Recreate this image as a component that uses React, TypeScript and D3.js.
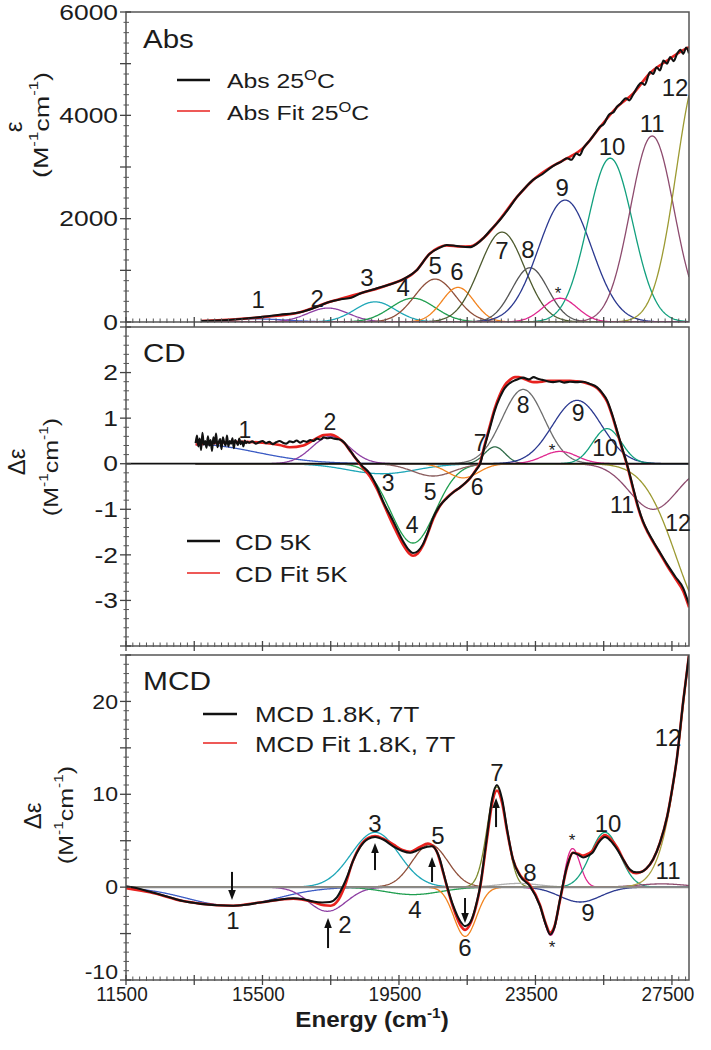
import React from "react";
import * as d3 from "d3";

const FONT = "'Liberation Sans', Arial, Helvetica, sans-serif";
const INK = "#1c1c1c";

// ---------- axes / ticks ----------
const energyDomain: [number, number] = [11500, 28000];
const xMajorTicks = [11500, 13500, 15500, 17500, 19500, 21500, 23500, 25500, 27500];
const xTickLabels = [11500, 15500, 19500, 23500, 27500];

const absMajorTicks = [0, 1000, 2000, 3000, 4000, 5000, 6000];
const absTickLabels = [0, 2000, 4000, 6000];
const cdMajorTicks = [-4, -3, -2, -1, 0, 1, 2, 3];
const cdTickLabels = [-3, -2, -1, 0, 1, 2];
const mcdMajorTicks = [-10, -5, 0, 5, 10, 15, 20, 25];
const mcdTickLabels = [-10, 0, 10, 20];

// ---------- experimental spectra [energy cm-1, value] ----------
const absExp: [number, number][] = [
  [13700, 20], [14500, 40], [15500, 100], [16000, 140], [16600, 190], [17000, 270], [17480, 390],
  [17800, 440], [18100, 470], [18400, 560], [18800, 640], [19200, 720], [19600, 820], [20000, 990],
  [20400, 1320], [20700, 1440], [20900, 1490], [21100, 1480], [21300, 1460], [21600, 1450], [21800, 1520],
  [22000, 1640], [22200, 1790], [22400, 1930], [22700, 2180], [22960, 2420], [23200, 2600], [23430, 2750],
  [23700, 2860], [23930, 2980], [24100, 3050], [24250, 3100], [24430, 3170], [24550, 3140], [24700, 3260],
  [24800, 3230], [24900, 3360], [25100, 3520], [25300, 3700], [25390, 3780], [25500, 3830], [25650, 4010],
  [25800, 4070], [25890, 4170], [26000, 4230], [26150, 4330], [26250, 4290], [26360, 4400], [26500, 4560],
  [26600, 4630], [26700, 4590], [26860, 4840], [26950, 4800], [27050, 4930], [27150, 4870], [27250, 5060],
  [27360, 5000], [27450, 5130], [27550, 5050], [27650, 5190], [27750, 5270], [27830, 5190], [27920, 5310],
  [28000, 5200],
];
const absFit: [number, number][] = [
  [13700, 20], [15500, 95], [16600, 190], [17480, 390], [18400, 560], [19200, 720], [20000, 990],
  [20400, 1320], [20900, 1480], [21300, 1460], [21600, 1465], [22000, 1640], [22400, 1940], [22960, 2420],
  [23430, 2750], [23930, 2990], [24430, 3170], [24900, 3370], [25390, 3770], [25890, 4160], [26360, 4420],
  [26860, 4820], [27360, 5060], [27830, 5260], [28000, 5320],
];

const cdExp: [number, number][] = [
  [13540, 0.45], [13580, 0.62], [13620, 0.38], [13660, 0.55], [13700, 0.3], [13740, 0.68], [13780, 0.42],
  [13820, 0.5], [13860, 0.35], [13900, 0.6], [13940, 0.4], [13980, 0.52], [14020, 0.28], [14060, 0.58],
  [14100, 0.44], [14140, 0.66], [14180, 0.36], [14220, 0.48], [14260, 0.54], [14300, 0.32], [14340, 0.58],
  [14380, 0.46], [14420, 0.4], [14460, 0.62], [14500, 0.38], [14540, 0.5], [14580, 0.44], [14620, 0.56],
  [14660, 0.34], [14700, 0.52], [14740, 0.47], [14780, 0.41], [14820, 0.55], [14860, 0.43], [14900, 0.49],
  [14940, 0.38], [14980, 0.51], [15020, 0.45], [15060, 0.48], [15100, 0.46], [15200, 0.49], [15300, 0.44],
  [15400, 0.47], [15500, 0.5], [15600, 0.45], [15700, 0.48], [15800, 0.43], [15900, 0.47], [16000, 0.5],
  [16100, 0.46], [16200, 0.44], [16300, 0.49], [16400, 0.47], [16500, 0.51], [16600, 0.46], [16700, 0.5],
  [16800, 0.48], [16900, 0.52], [17000, 0.5], [17100, 0.55], [17200, 0.53], [17300, 0.58], [17400, 0.56],
  [17500, 0.57], [17600, 0.55], [17700, 0.54], [17800, 0.52], [17900, 0.46], [18000, 0.36], [18100, 0.26],
  [18200, 0.15], [18300, 0.06], [18400, -0.03], [18650, -0.22], [18850, -0.5], [19030, -0.82], [19330, -1.26],
  [19620, -1.7], [19800, -1.9], [19910, -1.96], [20050, -1.92], [20200, -1.77], [20350, -1.5], [20500, -1.19],
  [20700, -0.92], [20910, -0.75], [21100, -0.62], [21290, -0.52], [21450, -0.42], [21590, -0.31], [21750, -0.15],
  [21880, 0.0], [22000, 0.35], [22170, 0.8], [22300, 1.15], [22460, 1.46], [22600, 1.66], [22750, 1.77],
  [22900, 1.83], [23000, 1.86], [23140, 1.89], [23300, 1.85], [23450, 1.9], [23550, 1.87], [23700, 1.84],
  [23850, 1.81], [24020, 1.79], [24200, 1.81], [24350, 1.78], [24510, 1.8], [24700, 1.79], [24900, 1.8],
  [25100, 1.75], [25300, 1.68], [25450, 1.56], [25600, 1.39], [25750, 1.08], [25890, 0.73], [26050, 0.32],
  [26180, 0.0], [26360, -0.52], [26500, -0.92], [26650, -1.26], [26800, -1.5], [26950, -1.7], [27150, -1.95],
  [27360, -2.21], [27600, -2.48], [27830, -2.73], [28000, -3.09],
];
const cdFit: [number, number][] = [
  [13540, 0.42], [14000, 0.45], [14500, 0.47], [15000, 0.48], [15500, 0.46], [16000, 0.41], [16300, 0.36],
  [16700, 0.4], [17000, 0.52], [17300, 0.63], [17500, 0.64], [17700, 0.58], [17900, 0.45], [18100, 0.25],
  [18400, -0.05], [18650, -0.28], [18850, -0.55], [19030, -0.85], [19330, -1.35], [19620, -1.78], [19800, -1.97],
  [19910, -2.02], [20050, -1.97], [20200, -1.8], [20350, -1.52], [20500, -1.22], [20700, -0.93], [20910, -0.74],
  [21100, -0.62], [21290, -0.52], [21450, -0.42], [21590, -0.31], [21750, -0.14], [21880, 0.03], [22000, 0.38],
  [22170, 0.85], [22300, 1.2], [22460, 1.52], [22600, 1.72], [22750, 1.84], [22900, 1.9], [23000, 1.9],
  [23140, 1.87], [23300, 1.82], [23450, 1.79], [23550, 1.79], [23700, 1.8], [23850, 1.82], [24020, 1.82],
  [24200, 1.82], [24350, 1.82], [24510, 1.82], [24700, 1.81], [24900, 1.79], [25100, 1.74], [25300, 1.66],
  [25450, 1.54], [25600, 1.36], [25750, 1.05], [25890, 0.7], [26050, 0.3], [26180, -0.02], [26360, -0.55],
  [26500, -0.95], [26650, -1.28], [26800, -1.52], [26950, -1.72], [27150, -1.97], [27360, -2.24], [27600, -2.52],
  [27830, -2.8], [28000, -3.15],
];

const mcdExp: [number, number][] = [
  [11500, 0.1], [11800, -0.1], [12200, -0.5], [12700, -1.0], [13170, -1.5], [13700, -1.8], [14170, -1.95],
  [14640, -2.0], [15000, -1.9], [15430, -1.65], [15900, -1.4], [16400, -1.2], [16700, -1.3], [16980, -1.55],
  [17250, -1.65], [17480, -1.6], [17680, -1.1], [17860, 0.1], [18000, 1.3], [18150, 2.8], [18360, 4.3],
  [18600, 5.2], [18800, 5.4], [19050, 5.1], [19330, 4.4], [19600, 3.9], [19830, 3.7], [20000, 3.9],
  [20180, 4.2], [20470, 4.4], [20600, 3.9], [20700, 3.0], [20800, 1.6], [20910, 0.1], [21090, -2.0],
  [21300, -3.7], [21440, -4.2], [21570, -3.9], [21670, -3.1], [21780, -1.6], [21880, 0.1], [21980, 2.7],
  [22080, 5.5], [22230, 9.5], [22370, 11.0], [22520, 9.5], [22670, 6.2], [22840, 3.0], [23050, 1.2],
  [23340, 0.1], [23630, -2.0], [23800, -4.0], [23930, -5.1], [24050, -4.4], [24220, -1.3], [24430, 2.3],
  [24600, 3.7], [24750, 3.5], [24900, 3.2], [25050, 3.4], [25170, 3.7], [25350, 4.8], [25540, 5.4],
  [25700, 5.0], [25890, 4.1], [26100, 2.8], [26270, 1.9], [26450, 1.6], [26570, 1.6], [26750, 2.0],
  [26950, 3.0], [27150, 4.8], [27360, 7.6], [27500, 10.4], [27650, 14.0], [27830, 20.0], [28000, 25.0],
];
const mcdFit: [number, number][] = [
  [11500, -0.1], [12200, -0.55], [13170, -1.5], [14170, -1.95], [14640, -2.0], [15430, -1.65], [16400, -1.25],
  [16980, -1.6], [17300, -1.95], [17500, -2.0], [17700, -1.5], [17900, 0.0], [18150, 2.8], [18360, 4.4],
  [18600, 5.3], [18800, 5.5], [19050, 5.2], [19330, 4.6], [19600, 4.0], [19830, 3.8], [20100, 4.3],
  [20350, 4.7], [20470, 4.5], [20600, 3.9], [20800, 1.5], [20910, 0.0], [21090, -2.2], [21300, -4.1],
  [21440, -4.6], [21570, -4.1], [21670, -3.2], [21880, 0.0], [22080, 5.2], [22230, 9.0], [22370, 10.4],
  [22520, 9.1], [22670, 6.0], [22840, 3.0], [23050, 1.3], [23340, 0.2], [23630, -1.9], [23800, -3.9],
  [23930, -4.9], [24050, -4.3], [24220, -1.4], [24430, 2.2], [24600, 3.7], [24750, 3.6], [24900, 3.4],
  [25050, 3.6], [25170, 3.9], [25350, 5.0], [25540, 5.6], [25700, 5.2], [25890, 4.3], [26100, 2.8],
  [26270, 1.8], [26450, 1.5], [26570, 1.6], [26750, 2.0], [26950, 3.0], [27150, 4.8], [27360, 7.6],
  [27500, 10.4], [27650, 14.0], [27830, 20.0], [28000, 25.0],
];

// ---------- Gaussian band components: [center cm-1, height, sigma cm-1] ----------
type Term = [number, number, number];
type Band = { label: string; terms: Term[] };

const absBands: Band[] = [
  { label: "1", terms: [[15300, 60, 900]] },
  { label: "2", terms: [[17420, 270, 600]] },
  { label: "3", terms: [[18800, 390, 600]] },
  { label: "4", terms: [[19910, 460, 650]] },
  { label: "5", terms: [[20560, 830, 600]] },
  { label: "6", terms: [[21230, 670, 470]] },
  { label: "7", terms: [[22520, 1740, 660]] },
  { label: "8", terms: [[23340, 1050, 530]] },
  { label: "9", terms: [[24370, 2360, 780]] },
  { label: "10", terms: [[25690, 3170, 660]] },
  { label: "11", terms: [[26920, 3600, 641]] },
  { label: "12", terms: [[28300, 4860, 666]] },
  { label: "*", terms: [[24220, 460, 500]] },
];
const cdBands: Band[] = [
  { label: "1", terms: [[13600, 0.42, 1700]] },
  { label: "2", terms: [[17500, 0.6, 550]] },
  { label: "3", terms: [[19000, -0.22, 1000]] },
  { label: "4", terms: [[19910, -1.74, 650]] },
  { label: "5", terms: [[20500, -0.27, 600]] },
  { label: "6", terms: [[21380, -0.31, 450]] },
  { label: "7", terms: [[22310, 0.37, 300]] },
  { label: "8", terms: [[23140, 1.63, 620]] },
  { label: "9", terms: [[24720, 1.39, 720]] },
  { label: "*", terms: [[24220, 0.27, 500]] },
  { label: "10", terms: [[25600, 0.77, 420]] },
  { label: "11", terms: [[26950, -1.0, 700]] },
  { label: "12", terms: [[28600, -3.4, 965]] },
];
const mcdBands: Band[] = [
  { label: "1", terms: [[14600, -2.0, 1300]] },
  { label: "2", terms: [[17400, -2.6, 550]] },
  { label: "3", terms: [[18800, 5.9, 700]] },
  { label: "4", terms: [[19910, -0.8, 800]] },
  { label: "5", terms: [[20410, 4.6, 520]] },
  { label: "6", terms: [[21440, -5.3, 330]] },
  { label: "7", terms: [[22370, 10.8, 280]] },
  { label: "8", terms: [[23000, 0.4, 600]] },
  { label: "9", terms: [[24810, -1.6, 600]] },
  { label: "*", terms: [[23960, -5.3, 230], [24570, 4.3, 230]] },
  { label: "10", terms: [[25540, 5.9, 430]] },
  { label: "11", terms: [[27200, 0.35, 700]] },
  { label: "12", terms: [[28660, 38.5, 709]] },
];

// ---------- band annotations [label, energy, value] ----------
const absNotes: [string, number, number][] = [
  ["1", 15370, 430], ["2", 17100, 460], ["3", 18560, 870], ["4", 19620, 660], ["5", 20560, 1100],
  ["6", 21200, 970], ["7", 22520, 1390], ["8", 23280, 1410], ["*", 24160, 560], ["9", 24280, 2610],
  ["10", 25745, 3390], ["11", 26920, 3850], ["12", 27590, 4530],
];
const cdNotes: [string, number, number][] = [
  ["1", 14988, 0.74], ["2", 17479, 0.92], ["3", 19179, -0.42], ["4", 19883, -1.34], ["5", 20410, -0.62],
  ["6", 21788, -0.51], ["7", 21876, 0.45], ["8", 23136, 1.29], ["9", 24748, 1.11], ["*", 23986, 0.3],
  ["10", 25540, 0.34], ["11", 26038, -0.91], ["12", 27680, -1.3],
];
const mcdNotes: [string, number, number][] = [
  ["1", 14636, -3.64], ["2", 17919, -4.07], ["3", 18798, 6.9], ["4", 19971, -2.46], ["5", 20645, 5.61],
  ["6", 21436, -6.55], ["7", 22374, 12.4], ["8", 23341, 1.63], ["*", 24572, 5.0], ["*", 23986, -6.5],
  ["9", 25041, -2.78], ["10", 25627, 6.9], ["11", 27386, 1.84], ["12", 27386, 16.1],
];
// arrows [energy, from value, to value]
const mcdArrows: [number, number, number][] = [
  [14607, 1.64, -1.39], [17421, -6.56, -3.32], [18798, 1.84, 4.75], [20469, 0.55, 3.24],
  [21436, -1.17, -3.86], [22345, 6.47, 9.6],
];

// ---------- colours ----------
const baseColors: Record<string, string> = {
  "1": "#3b5bc4", "2": "#8e3fa3", "3": "#1fa7b8", "4": "#1f9e4f", "5": "#8f4f3a", "6": "#f2841f",
  "7": "#4d5a2e", "8": "#555555", "9": "#2b3990", "*": "#e0288f", "10": "#12a07e", "11": "#8d4b6e",
  "12": "#9c9a32",
};
const cdColors: Record<string, string> = { ...baseColors, "5": "#8a5e5e", "7": "#2e6b48", "8": "#6e6e6e" };
const mcdColors: Record<string, string> = { ...baseColors, "7": "#7c8a2c", "8": "#b0b0b0", "12": "#a8a040" };

const X0 = 126, X1 = 689;
const x = d3.scaleLinear().domain(energyDomain).range([X0, X1]);

function bandPoints(b: Band, start: number): [number, number][] {
  const pts: [number, number][] = [];
  for (let e = start; e <= 28000; e += 20) {
    let v = 0;
    for (const [c, h, s] of b.terms) v += h * Math.exp(-((e - c) * (e - c)) / (2 * s * s));
    pts.push([e, v]);
  }
  return pts;
}

type TProps = {
  x: number; y: number; size: number; sx?: number; rot?: number; anchor?: string; baseline?: string;
  weight?: string | number; fill?: string; children: React.ReactNode;
};
function T({ x: tx, y: ty, size, sx = 1, rot = 0, anchor = "start", baseline = "auto", weight = "normal", fill = INK, children }: TProps) {
  const tr = `translate(${tx},${ty})` + (rot ? ` rotate(${rot})` : "") + (sx !== 1 ? ` scale(${sx},1)` : "");
  return (
    <text transform={tr} fontSize={size} textAnchor={anchor as any} dominantBaseline={baseline as any}
      fontWeight={weight as any} fontFamily={FONT} fill={fill}>{children}</text>
  );
}

type PanelCfg = {
  id: string; yDomain: [number, number]; yRange: [number, number]; major: number[]; labels: number[];
  minorStep: number; bands: Band[]; colors: Record<string, string>; start: number;
  exp: [number, number][]; fit: [number, number][]; notes: [string, number, number][];
  zeroLine?: { color: string; width: number }; tickSx: number; tickSize: number; noteSize: number;
  lowShift: number;
};

function Panel({ c }: { c: PanelCfg }) {
  const y = d3.scaleLinear().domain(c.yDomain).range(c.yRange);
  const [yb, yt] = c.yRange;
  const line = d3.line<[number, number]>().x((d) => x(d[0])).y((d) => y(d[1])).curve(d3.curveMonotoneX);
  const lineLin = d3.line<[number, number]>().x((d) => x(d[0])).y((d) => y(d[1]));
  const minorY = d3.range(c.yDomain[0], c.yDomain[1] + 1e-9, c.minorStep).filter(
    (v) => !c.major.some((m) => Math.abs(m - v) < 1e-6));
  const minorX = d3.range(11500, 28001, 200).filter((v) => !xMajorTicks.includes(v));
  const clip = `clip-${c.id}`;
  return (
    <g>
      <defs>
        <clipPath id={clip}><rect x={X0} y={yt} width={X1 - X0} height={yb - yt} /></clipPath>
      </defs>
      <g clipPath={`url(#${clip})`} fill="none">
        {c.bands.map((b, i) => (
          <path key={i} d={lineLin(bandPoints(b, c.start)) || ""} stroke={c.colors[b.label]} strokeWidth={1.3} />
        ))}
        {c.zeroLine && (
          <line x1={X0} x2={X1} y1={y(0)} y2={y(0)} stroke={c.zeroLine.color} strokeWidth={c.zeroLine.width} />
        )}
        <path d={line(c.fit) || ""} stroke="#e8221f" strokeWidth={2.6} />
        <path d={line(c.exp) || ""} stroke="#111" strokeWidth={2.1} strokeLinejoin="round" />
      </g>
      <rect x={X0} y={yt} width={X1 - X0} height={yb - yt} fill="none" stroke="#555" strokeWidth={1.5} />
      {/* left axis ticks */}
      {c.major.map((v) => (
        <line key={"M" + v} x1={X0 - 6} x2={X0 + 5} y1={y(v)} y2={y(v)} stroke="#444" strokeWidth={1.3} />
      ))}
      {minorY.map((v, i) => (
        <line key={"m" + i} x1={X0 - 2.5} x2={X0 + 3} y1={y(v)} y2={y(v)} stroke="#555" strokeWidth={1} />
      ))}
      {c.labels.map((v) => (
        <T key={"L" + v} x={X0 - 8} y={y(v) - (v === c.yDomain[0] ? c.lowShift : 0)} size={c.tickSize} sx={c.tickSx}
          anchor="end" baseline="central">{v}</T>
      ))}
      {/* bottom axis ticks */}
      {xMajorTicks.map((v) => (
        <line key={"X" + v} x1={x(v)} x2={x(v)} y1={yb - 5} y2={yb + 5} stroke="#444" strokeWidth={1.3} />
      ))}
      {minorX.map((v) => (
        <line key={"x" + v} x1={x(v)} x2={x(v)} y1={yb - 3.5} y2={yb + 1} stroke="#555" strokeWidth={1} />
      ))}
      {c.notes.map(([t, e, v], i) => (
        <T key={"n" + i} x={x(e)} y={y(v)} size={t === "*" ? 17 : c.noteSize} anchor="middle" baseline="central">{t}</T>
      ))}
    </g>
  );
}

function Arrow({ ex, from, to, y }: { ex: number; from: number; to: number; y: d3.ScaleLinear<number, number> }) {
  const px = x(ex), y0 = y(from), y1 = y(to);
  const dir = y1 > y0 ? 1 : -1;
  return (
    <g>
      <line x1={px} x2={px} y1={y0} y2={y1 - dir * 6} stroke="#111" strokeWidth={2} />
      <path d={`M${px},${y1} L${px - 3.8},${y1 - dir * 10} L${px + 3.8},${y1 - dir * 10} Z`} fill="#111" />
    </g>
  );
}

export default function App() {
  const absCfg: PanelCfg = {
    id: "abs", yDomain: [0, 6000], yRange: [322, 12], major: absMajorTicks, labels: absTickLabels,
    minorStep: 200, bands: absBands, colors: baseColors, start: 13700, exp: absExp, fit: absFit,
    notes: absNotes, tickSx: 1.2, tickSize: 22, noteSize: 24, lowShift: 0,
  };
  const cdCfg: PanelCfg = {
    id: "cd", yDomain: [-4, 3], yRange: [646, 327], major: cdMajorTicks, labels: cdTickLabels,
    minorStep: 0.2, bands: cdBands, colors: cdColors, start: 13540, exp: cdExp, fit: cdFit,
    notes: cdNotes, zeroLine: { color: "#111", width: 1.8 }, tickSx: 1.2, tickSize: 22, noteSize: 23, lowShift: 0,
  };
  const mcdCfg: PanelCfg = {
    id: "mcd", yDomain: [-10, 25], yRange: [980, 655], major: mcdMajorTicks, labels: mcdTickLabels,
    minorStep: 1, bands: mcdBands, colors: mcdColors, start: 11500, exp: mcdExp, fit: mcdFit,
    notes: mcdNotes, zeroLine: { color: "#8a8a8a", width: 2 }, tickSx: 1.1, tickSize: 21, noteSize: 24, lowShift: 8,
  };
  const yMcd = d3.scaleLinear().domain(mcdCfg.yDomain).range(mcdCfg.yRange);

  const unit = (size: number) => (
    <>
      (M<tspan dy={-size * 0.38} fontSize={size * 0.62}>-1</tspan>
      <tspan dy={size * 0.38}>cm</tspan>
      <tspan dy={-size * 0.38} fontSize={size * 0.62}>-1</tspan>
      <tspan dy={size * 0.38}>)</tspan>
    </>
  );

  return (
    <svg width={711} height={1050} viewBox="0 0 711 1050"
      style={{ position: "absolute", left: 0, top: 0, background: "#fff" }}>
      <rect x={0} y={0} width={711} height={1050} fill="#fff" />
      <Panel c={absCfg} />
      <Panel c={cdCfg} />
      <Panel c={mcdCfg} />
      {mcdArrows.map(([e, f, t], i) => <Arrow key={i} ex={e} from={f} to={t} y={yMcd} />)}

      {/* panel titles */}
      <T x={143} y={48} size={25} sx={1.18}>Abs</T>
      <T x={143} y={362} size={25} sx={1.18}>CD</T>
      <T x={143} y={690} size={26} sx={1.15}>MCD</T>

      {/* legends */}
      <line x1={177} x2={210} y1={80} y2={80} stroke="#111" strokeWidth={2.6} />
      <T x={227} y={88} size={21} sx={1.18}>Abs 25<tspan dy={-8} fontSize={14}>O</tspan><tspan dy={8}>C</tspan></T>
      <line x1={177} x2={210} y1={111} y2={111} stroke="#e8221f" strokeWidth={1.5} />
      <T x={227} y={120} size={21} sx={1.18}>Abs Fit 25<tspan dy={-8} fontSize={14}>O</tspan><tspan dy={8}>C</tspan></T>

      <line x1={187} x2={220} y1={541} y2={541} stroke="#111" strokeWidth={2.6} />
      <T x={235} y={550} size={22} sx={1.18}>CD 5K</T>
      <line x1={187} x2={220} y1={573} y2={573} stroke="#e8221f" strokeWidth={1.5} />
      <T x={235} y={582} size={22} sx={1.18}>CD Fit 5K</T>

      <line x1={203} x2={237} y1={714} y2={714} stroke="#111" strokeWidth={2.6} />
      <T x={255} y={722} size={22} sx={1.18}>MCD 1.8K, 7T</T>
      <line x1={203} x2={237} y1={743} y2={743} stroke="#e8221f" strokeWidth={1.5} />
      <T x={255} y={752} size={22} sx={1.18}>MCD Fit 1.8K, 7T</T>

      {/* y-axis titles */}
      <T x={13} y={127} size={24} rot={-90} anchor="middle" baseline="central">ε</T>
      <T x={41} y={125} size={20} rot={-90} sx={1.35} anchor="middle" baseline="central">{unit(20)}</T>
      <T x={16} y={462} size={24} rot={-90} anchor="middle" baseline="central">Δε</T>
      <T x={51} y={467} size={20} rot={-90} sx={1.25} anchor="middle" baseline="central">{unit(20)}</T>
      <T x={32} y={816} size={24} rot={-90} anchor="middle" baseline="central">Δε</T>
      <T x={66} y={815} size={20} rot={-90} sx={1.25} anchor="middle" baseline="central">{unit(20)}</T>

      {/* x tick labels */}
      {xTickLabels.map((v) => (
        <T key={v} x={x(v) - 4} y={1001} size={20} sx={0.95} anchor="middle">{v}</T>
      ))}
      <T x={372} y={1027} size={22} sx={1.1} weight="bold" anchor="middle">
        Energy (cm<tspan dy={-9} fontSize={14}>-1</tspan><tspan dy={9}>)</tspan>
      </T>
    </svg>
  );
}
